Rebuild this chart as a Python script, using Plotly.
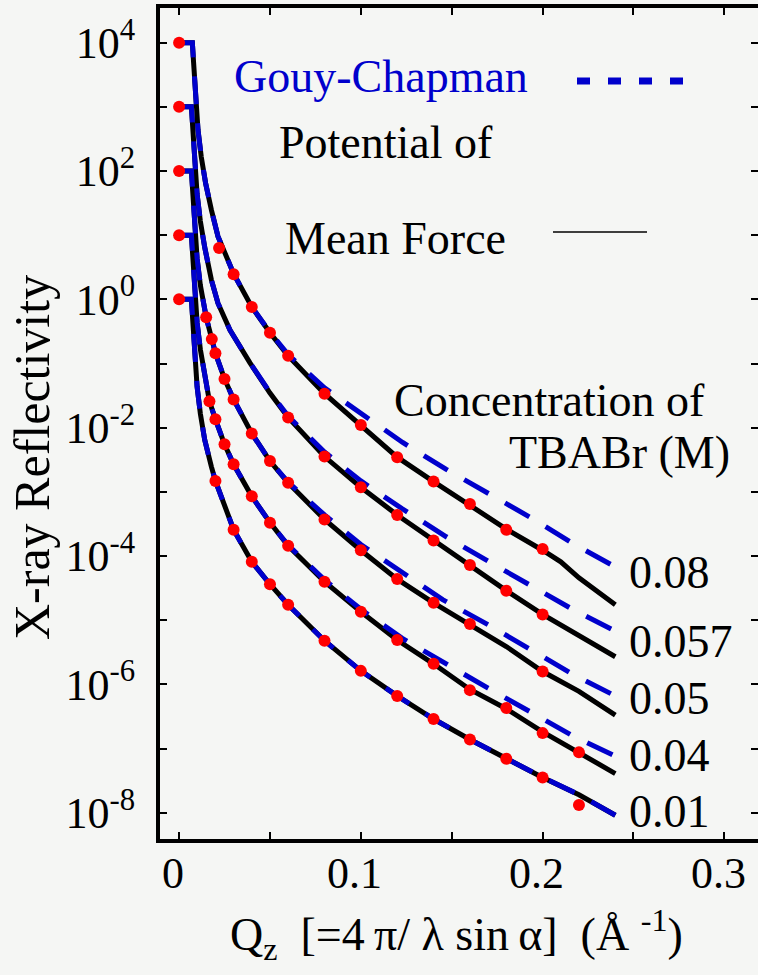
import plotly.graph_objects as go

# ---------------- data (log10 of reflectivity, curves offset by decades) ----------------
# measured points (red dots)
Q_08_pts = [0.0, 0.022, 0.030, 0.040, 0.050, 0.060, 0.080, 0.100, 0.120, 0.140, 0.160, 0.180, 0.200]
logR_08_pts = [4.00, 0.80, 0.39, -0.12, -0.52, -0.88, -1.47, -1.96, -2.46, -2.84, -3.19, -3.59, -3.89]

Q_057_pts = [0.0, 0.060, 0.080, 0.100, 0.120, 0.140, 0.160, 0.180, 0.200]
logR_057_pts = [3.00, -1.84, -2.45, -2.93, -3.36, -3.76, -4.14, -4.54, -4.91]

Q_05_pts = [0.0, 0.0149, 0.018, 0.020, 0.025, 0.030, 0.040, 0.050, 0.060, 0.080, 0.100, 0.120, 0.140, 0.160, 0.200]
logR_05_pts = [2.00, -0.28, -0.62, -0.84, -1.24, -1.56, -2.09, -2.52, -2.86, -3.43, -3.91, -4.36, -4.73, -5.06, -5.80]

Q_04_pts = [0.0, 0.0167, 0.020, 0.025, 0.030, 0.040, 0.050, 0.060, 0.080, 0.100, 0.120, 0.140, 0.160, 0.180, 0.200, 0.220]
logR_04_pts = [1.00, -1.59, -1.87, -2.26, -2.57, -3.07, -3.48, -3.84, -4.40, -4.87, -5.31, -5.68, -6.09, -6.37, -6.76, -7.06]

Q_01_pts = [0.0, 0.020, 0.030, 0.040, 0.050, 0.060, 0.080, 0.100, 0.120, 0.140, 0.160, 0.180, 0.200, 0.220]
logR_01_pts = [0.00, -2.83, -3.59, -4.09, -4.44, -4.76, -5.32, -5.79, -6.18, -6.54, -6.86, -7.16, -7.45, -7.88]

# potential of mean force fits (black solid)
Q_08_pmf = [0, 0.0073, 0.0080, 0.0091, 0.0104, 0.0122, 0.0146, 0.0178, 0.0214, 0.030, 0.040, 0.050, 0.060,
            0.080, 0.100, 0.120, 0.140, 0.160, 0.180, 0.200, 0.210, 0.220, 0.240]
logR_08_pmf = [4.00, 4.00, 3.68, 3.16, 2.64, 2.22, 1.81, 1.39, 0.98, 0.40, -0.12, -0.52, -0.88,
               -1.47, -1.96, -2.46, -2.84, -3.20, -3.58, -3.91, -4.09, -4.34, -4.76]

Q_057_pmf = [0, 0.0068, 0.0075, 0.0086, 0.0099, 0.0117, 0.0141, 0.0178, 0.0214, 0.028, 0.039, 0.050, 0.060,
             0.080, 0.100, 0.120, 0.140, 0.160, 0.180, 0.200, 0.220, 0.240]
logR_057_pmf = [3.00, 3.00, 2.68, 2.16, 1.64, 1.22, 0.81, 0.30, -0.06, -0.48, -0.99, -1.46, -1.84,
                -2.45, -2.93, -3.36, -3.76, -4.14, -4.54, -4.91, -5.23, -5.57]

Q_05_pmf = [0, 0.0068, 0.0075, 0.0086, 0.0099, 0.0117, 0.0149, 0.018, 0.020, 0.025, 0.030, 0.040, 0.050, 0.060,
            0.080, 0.100, 0.120, 0.140, 0.160, 0.180, 0.200, 0.220, 0.240]
logR_05_pmf = [2.00, 2.00, 1.68, 1.16, 0.64, 0.22, -0.28, -0.62, -0.84, -1.24, -1.56, -2.09, -2.52, -2.86,
               -3.43, -3.91, -4.36, -4.73, -5.06, -5.41, -5.80, -6.11, -6.48]

Q_04_pmf = [0, 0.0068, 0.0075, 0.0086, 0.0099, 0.0117, 0.0141, 0.0167, 0.020, 0.025, 0.030, 0.040, 0.050, 0.060,
            0.080, 0.100, 0.120, 0.140, 0.160, 0.180, 0.200, 0.220, 0.240]
logR_04_pmf = [1.00, 1.00, 0.68, 0.16, -0.36, -0.78, -1.19, -1.59, -1.87, -2.26, -2.57, -3.07, -3.48, -3.84,
               -4.40, -4.87, -5.31, -5.68, -6.08, -6.38, -6.74, -7.06, -7.39]

Q_01_pmf = [0, 0.0068, 0.0075, 0.0086, 0.0099, 0.0117, 0.0141, 0.0178, 0.020, 0.030, 0.040, 0.050, 0.060,
            0.080, 0.100, 0.120, 0.140, 0.160, 0.180, 0.200, 0.220, 0.240]
logR_01_pmf = [0.00, 0.00, -0.32, -0.84, -1.36, -1.78, -2.19, -2.61, -2.83, -3.59, -4.09, -4.44, -4.76,
               -5.32, -5.79, -6.18, -6.54, -6.86, -7.16, -7.45, -7.72, -8.04]

# Gouy-Chapman fits (blue dashed)
Q_08_gc = [0, 0.0073, 0.0080, 0.0091, 0.0104, 0.0122, 0.0146, 0.0178, 0.0214, 0.030, 0.040, 0.050, 0.060,
           0.080, 0.100, 0.123, 0.147, 0.170, 0.194, 0.217, 0.240]
logR_08_gc = [4.00, 4.00, 3.68, 3.16, 2.64, 2.22, 1.81, 1.39, 0.98, 0.40, -0.12, -0.51, -0.86,
              -1.38, -1.78, -2.23, -2.65, -3.02, -3.41, -3.81, -4.17]

Q_057_gc = [0, 0.0068, 0.0075, 0.0086, 0.0099, 0.0117, 0.0141, 0.0178, 0.0214, 0.028, 0.039, 0.050, 0.060,
            0.080, 0.100, 0.1226, 0.147, 0.170, 0.194, 0.217, 0.240]
logR_057_gc = [3.00, 3.00, 2.68, 2.16, 1.64, 1.22, 0.81, 0.30, -0.06, -0.48, -0.99, -1.45, -1.82,
               -2.38, -2.83, -3.26, -3.70, -4.08, -4.47, -4.84, -5.17]

Q_05_gc = [0, 0.0068, 0.0075, 0.0086, 0.0099, 0.0117, 0.0149, 0.018, 0.020, 0.025, 0.030, 0.040, 0.050, 0.060,
           0.080, 0.100, 0.1226, 0.145, 0.170, 0.194, 0.217, 0.240]
logR_05_gc = [2.00, 2.00, 1.68, 1.16, 0.64, 0.22, -0.28, -0.62, -0.84, -1.24, -1.56, -2.09, -2.52, -2.85,
              -3.36, -3.82, -4.26, -4.68, -5.07, -5.46, -5.85, -6.18]

Q_04_gc = [0, 0.0068, 0.0075, 0.0086, 0.0099, 0.0117, 0.0141, 0.0167, 0.020, 0.025, 0.030, 0.040, 0.050, 0.060,
           0.080, 0.100, 0.1226, 0.146, 0.170, 0.194, 0.217, 0.240]
logR_04_gc = [1.00, 1.00, 0.68, 0.16, -0.36, -0.78, -1.19, -1.59, -1.87, -2.26, -2.57, -3.07, -3.48, -3.83,
              -4.37, -4.83, -5.28, -5.67, -6.06, -6.44, -6.81, -7.12]

Q_01_gc = Q_01_pmf
logR_01_gc = logR_01_pmf

concentrations = ["0.08", "0.057", "0.05", "0.04", "0.01"]

x_tickvals = [0, 0.1, 0.2, 0.3]
x_ticktext = ["0", "0.1", "0.2", "0.3"]
x_minorvals = [0.05, 0.15, 0.25]
y_major_exp = [-8, -6, -4, -2, 0, 2, 4]
y_minor_exp = [-7, -5, -3, -1, 1, 3]
y_ticktext = ["10<sup>%d</sup>" % e for e in y_major_exp]

# ---------------- figure ----------------
FONT = "Liberation Serif, Times New Roman, serif"
BLUE = "#0000cc"
BG = "#f5f6f4"

curves = [
    (Q_08_pts, logR_08_pts, Q_08_pmf, logR_08_pmf, Q_08_gc, logR_08_gc),
    (Q_057_pts, logR_057_pts, Q_057_pmf, logR_057_pmf, Q_057_gc, logR_057_gc),
    (Q_05_pts, logR_05_pts, Q_05_pmf, logR_05_pmf, Q_05_gc, logR_05_gc),
    (Q_04_pts, logR_04_pts, Q_04_pmf, logR_04_pmf, Q_04_gc, logR_04_gc),
    (Q_01_pts, logR_01_pts, Q_01_pmf, logR_01_pmf, Q_01_gc, logR_01_gc),
]

def pw(v):
    return [10 ** a for a in v]

fig = go.Figure()
for qp, lp, qf, lf, qg, lg in curves:
    fig.add_trace(go.Scatter(x=qf, y=pw(lf), mode="lines",
                             line=dict(color="black", width=5), showlegend=False))
for qp, lp, qf, lf, qg, lg in curves:
    fig.add_trace(go.Scatter(x=qg, y=pw(lg), mode="lines",
                             line=dict(color=BLUE, width=5, dash="28px,19px"), showlegend=False))
for qp, lp, qf, lf, qg, lg in curves:
    fig.add_trace(go.Scatter(x=qp, y=pw(lp), mode="markers",
                             marker=dict(color="#ff0000", size=12, line=dict(width=0)), showlegend=False))
# invisible trace to activate the right-hand tick axis
fig.add_trace(go.Scatter(x=[0.1], y=[1], yaxis="y2", mode="markers",
                         marker=dict(opacity=0), showlegend=False, hoverinfo="skip"))

L, R, T, B = 160, 758, 8, 839
W, H = 758, 975

def px(x):
    return (x - L) / (R - L)

def py(y):
    return (B - y) / (B - T)

ann = []
def text(s, x, y_center, size, color="black", xanchor="left", angle=0, xref="paper", xshift=0):
    ann.append(dict(text=s, x=(px(x) if xref == "paper" else x), y=py(y_center), xref=xref, yref="paper",
                    xanchor=xanchor, yanchor="middle", showarrow=False, textangle=angle, xshift=xshift,
                    font=dict(family=FONT, size=size, color=color)))

text("Gouy-Chapman", 232, 77, 46, BLUE)
text("Potential of", 277, 142, 46)
text("Mean Force", 283, 239, 46)
text("Concentration of", 392, 400, 46)
text("TBABr (M)", 732, 452, 46, xanchor="right")
for lab, yb in zip(concentrations, [572, 641, 698, 755, 811]):
    text(lab, 627, yb, 46)
# x tick labels (placed just under the axis)
for v, t in zip(x_tickvals, x_ticktext):
    text(t, v, 873, 44, xanchor="center", xref="x", xshift=-6)
text("Q<sub>z</sub>\u00a0 [=4\u2009π/ λ sin\u2009α]\u00a0 (Å\u00a0<sup>-1</sup>)", 456, 934, 46, xanchor="center")
text("X-ray Reflectivity", 32, 458, 50, xanchor="center", angle=-90)

shapes = [
    dict(type="line", xref="paper", yref="paper", x0=px(577), x1=px(685), y0=py(81), y1=py(81),
         line=dict(color=BLUE, width=7, dash="13px,18px")),
    dict(type="line", xref="paper", yref="paper", x0=px(553), x1=px(647), y0=py(232), y1=py(232),
         line=dict(color="black", width=1.5)),
]

fig.update_layout(
    width=W, height=H,
    margin=dict(l=L, r=W - R, t=T, b=H - B, pad=0),
    paper_bgcolor=BG, plot_bgcolor=BG,
    showlegend=False,
    annotations=ann, shapes=shapes,
    xaxis=dict(range=[-0.0105, 0.3185], showline=True, linecolor="black", linewidth=4,
               mirror="ticks", ticks="inside", ticklen=7, tickwidth=2, tickcolor="black",
               tickmode="array", tickvals=x_tickvals, showticklabels=False,
               minor=dict(tickmode="array", tickvals=x_minorvals, ticks="inside", ticklen=7,
                          tickwidth=2, tickcolor="black", showgrid=False),
               showgrid=False, zeroline=False),
    yaxis=dict(type="log", range=[-8.41, 4.54], showline=True, linecolor="black", linewidth=4,
               mirror=False, ticks="inside", ticklen=7, tickwidth=2, tickcolor="black",
               tickmode="array", tickvals=[10 ** e for e in y_major_exp], ticktext=y_ticktext,
               minor=dict(tickmode="array", tickvals=[10 ** e for e in y_minor_exp], ticks="inside",
                          ticklen=7, tickwidth=2, tickcolor="black", showgrid=False),
               showgrid=False, zeroline=False,
               tickfont=dict(family=FONT, size=44, color="black"),
               ticklabelstandoff=12),
    yaxis2=dict(type="log", range=[-8.41, 4.54], overlaying="y", side="right",
                showline=False, ticks="inside", ticklen=7, tickwidth=2, tickcolor="black",
                tickmode="array", tickvals=[10 ** e for e in y_major_exp + y_minor_exp],
                showticklabels=False, showgrid=False, zeroline=False),
)

fig.write_html("out.html")
